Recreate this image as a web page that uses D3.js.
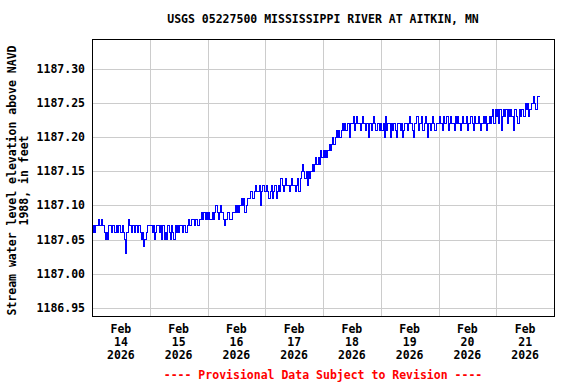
<!DOCTYPE html>
<html lang="en">
<head>
    <script src="https://d3js.org/d3.v7.min.js"></script>
</head>
<body style="margin:0;background:#fff">
<style>
    text {
        font-family: "DejaVu Sans Mono", monospace;
        font-weight: bold;
        font-size: 11.5px;
    }
    .grid line {
        stroke: #cccccc;
        stroke-width: 1px;
        shape-rendering: crispEdges;
    }
</style>
<svg></svg>
<script>
    const width = 576;
    const height = 384;

    const title = 'USGS 05227500 MISSISSIPPI RIVER AT AITKIN, MN';
    const yTitle = ['Stream water level elevation above NAVD', '1988, in feet'];
    const footer = '---- Provisional Data Subject to Revision ----';

    // gage height in hundredths of a foot above 1187.00, every 30 minutes
    const base = 1187.00;
    const feb14 = [6,7,6,7,7,8,7,7,8,7,6,5,6,5,7,7,6,7,7,6,7,6,7,7,6,7,6,5,3,6,8,7,7,6,7,6,7,7,6,7,6,5,6,4,5,6,7,7];
    const feb15 = [7,7,6,7,5,6,7,7,6,7,5,7,5,6,5,7,6,5,7,6,5,7,6,7,6,7,7,6,7,7,6,7,8,7,7,8,8,7,8,8,7,8,8,9,8,9,8,9];
    const feb16 = [8,9,8,8,9,8,9,10,9,8,9,10,9,8,7,8,8,9,8,8,8,9,9,10,9,10,9,10,11,10,11,9,10,11,11,11,12,11,11,12,13,12,12,13,10,12,13,12];
    const feb17 = [12,13,12,11,12,13,11,12,13,11,12,13,12,14,13,12,13,14,13,13,12,13,14,13,13,12,13,14,12,14,15,16,15,14,15,13,15,14,15,16,15,16,17,16,17,16,18,17];
    const feb18 = [18,17,18,17,18,19,18,19,20,19,20,21,20,21,20,21,22,21,22,21,22,22,20,22,22,23,21,22,23,22,22,21,22,23,22,21,22,22,20,22,21,22,23,22,21,22,22,21];
    const feb19 = [22,21,22,20,23,21,22,22,20,22,21,22,21,20,22,22,21,22,20,21,22,22,21,22,23,22,21,20,22,22,23,21,22,22,23,21,22,23,22,20,22,21,22,23,22,21,22,22];
    const feb20 = [22,23,22,21,23,22,22,23,21,22,23,22,22,21,23,22,23,22,21,22,23,22,22,23,21,22,22,23,22,21,23,22,22,23,22,21,22,23,22,23,21,22,23,22,23,24,22,24];
    const feb21 = [23,24,22,24,21,23,24,23,24,22,24,23,24,23,21,24,24,23,22,24,23,24,24,23,25,24,25,23,24,25,25,26,25,24,26,26,26];
    const days = [feb14, feb15, feb16, feb17, feb18, feb19, feb20, feb21];

    const dayLabels = ['14', '15', '16', '17', '18', '19', '20', '21'];
    const yTicks = [1186.95, 1187.00, 1187.05, 1187.10, 1187.15, 1187.20, 1187.25, 1187.30];

    const start = Date.UTC(2026, 1, 14);
    const dayMs = 24 * 3600 * 1000;
    const data = [];
    days.forEach((vals, d) => {
        vals.forEach((v, i) => {
            data.push({t: new Date(start + d * dayMs + i * 1800 * 1000), v: base + v / 100});
        });
    });

    const plotL = 92, plotR = 554, plotT = 39, plotB = 316;

    const svg = d3.select('svg').attr('width', width).attr('height', height);

    const x = d3.scaleUtc()
        .domain([new Date(start), new Date(start + 8 * dayMs)])
        .range([plotL, plotR]);
    const y = d3.scaleLinear()
        .domain([1186.938, 1187.344])
        .range([plotB, plotT]);

    // grid
    const grid = svg.append('g').attr('class', 'grid');
    grid.selectAll('.h').data(yTicks).enter().append('line')
        .attr('x1', plotL).attr('x2', plotR)
        .attr('y1', d => Math.round(y(d)) + 0.5).attr('y2', d => Math.round(y(d)) + 0.5);
    const dayLines = d3.range(1, 8).map(d => new Date(start + d * dayMs));
    grid.selectAll('.v').data(dayLines).enter().append('line')
        .attr('y1', plotT).attr('y2', plotB)
        .attr('x1', d => Math.round(x(d)) + 0.5).attr('x2', d => Math.round(x(d)) + 0.5);

    // data line, stepped like the gage record
    const line = d3.line().curve(d3.curveStepAfter).x(d => x(d.t)).y(d => y(d.v));
    svg.append('path')
        .datum(data)
        .attr('d', line)
        .attr('fill', 'none')
        .attr('stroke', '#0000ff')
        .attr('stroke-width', 1)
        .attr('shape-rendering', 'crispEdges');

    // frame
    svg.append('rect')
        .attr('x', plotL + 0.5).attr('y', plotT + 0.5)
        .attr('width', plotR - plotL).attr('height', plotB - plotT)
        .attr('fill', 'none').attr('stroke', '#000').attr('stroke-width', 1)
        .attr('shape-rendering', 'crispEdges');

    // y tick labels
    svg.selectAll('.yl').data(yTicks).enter().append('text')
        .attr('x', 85).attr('y', d => y(d) + 4)
        .attr('text-anchor', 'end')
        .text(d => d.toFixed(2));

    // x tick labels at noon
    const xl = svg.selectAll('.xl').data(dayLabels).enter().append('text')
        .attr('text-anchor', 'middle')
        .attr('transform', (d, i) => `translate(${x(new Date(start + i * dayMs + dayMs / 2))},0)`);
    xl.append('tspan').attr('x', 0).attr('y', 333).text('Feb');
    xl.append('tspan').attr('x', 0).attr('y', 346).text(d => d);
    xl.append('tspan').attr('x', 0).attr('y', 359).text('2026');

    // title
    svg.append('text')
        .attr('x', (plotL + plotR) / 2).attr('y', 23)
        .attr('text-anchor', 'middle')
        .text(title);

    // y axis title
    const yt = svg.append('text')
        .attr('text-anchor', 'middle')
        .attr('transform', `translate(0,${(plotT + plotB) / 2 + 3}) rotate(-90)`);
    yt.append('tspan').attr('x', 0).attr('y', 16).text(yTitle[0]);
    yt.append('tspan').attr('x', 0).attr('y', 28).text(yTitle[1]);

    // footer
    svg.append('text')
        .attr('x', (plotL + plotR) / 2).attr('y', 379)
        .attr('text-anchor', 'middle')
        .attr('fill', '#ff0000')
        .text(footer);
</script>
</body>
</html>
